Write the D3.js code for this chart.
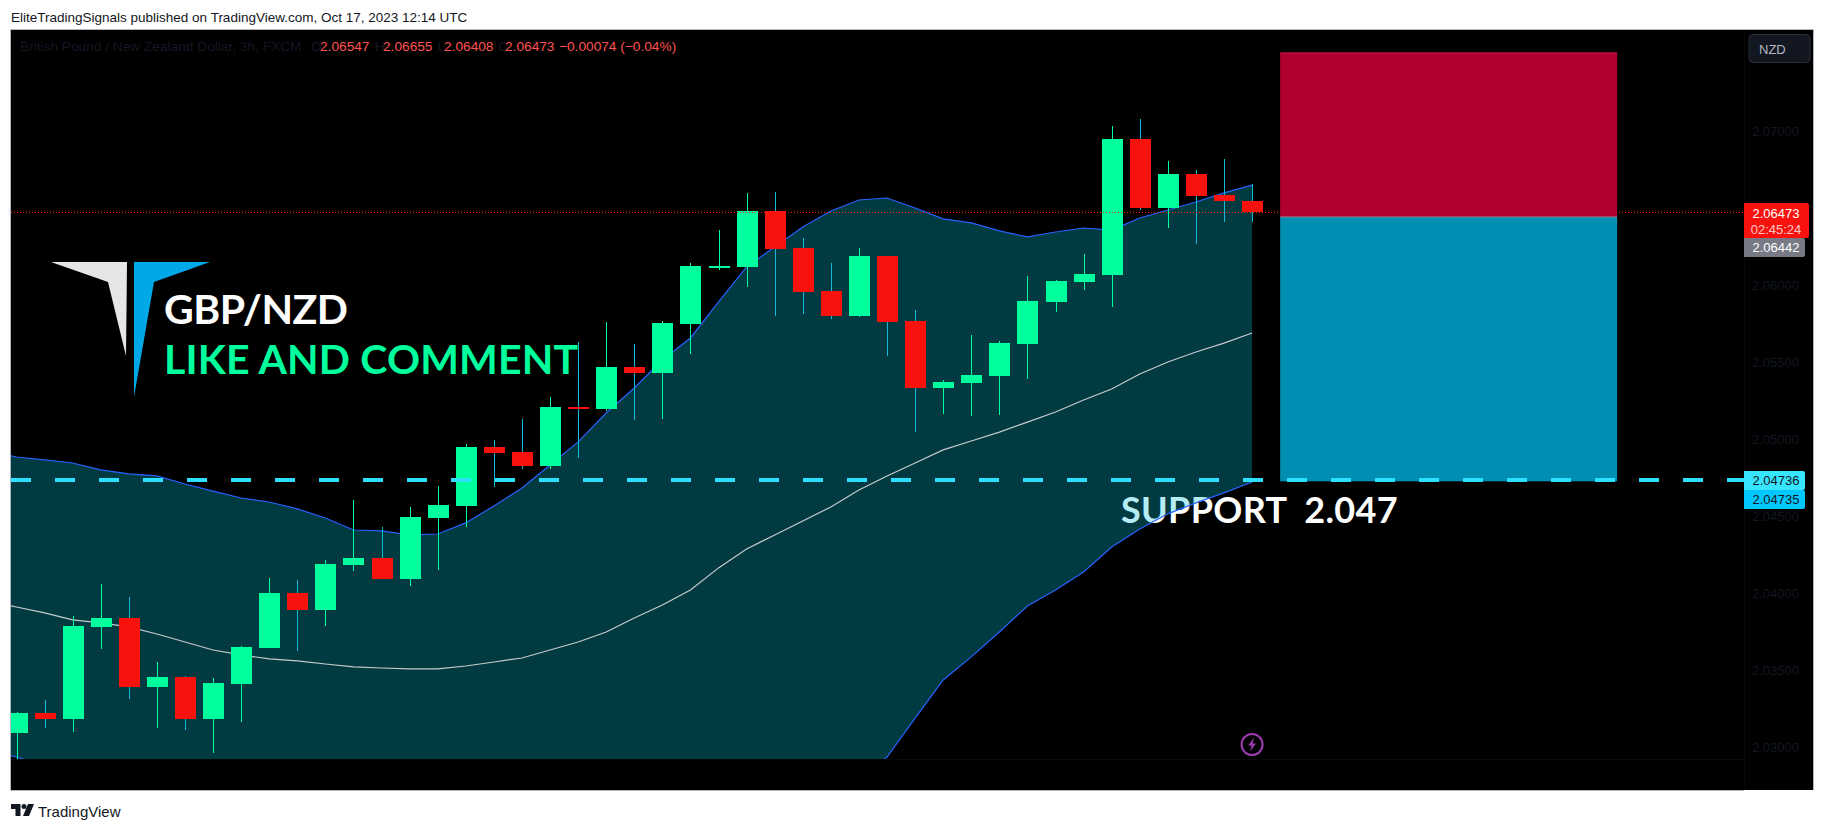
<!DOCTYPE html>
<html><head><meta charset="utf-8">
<script src="https://cdn.jsdelivr.net/npm/d3@7"></script>
<style>
html,body{margin:0;padding:0;background:#fff;overflow:hidden}
text{font-family:"Liberation Sans",sans-serif}
.big{font-family:Lato,"Liberation Sans",sans-serif}
</style></head><body>
<svg id="c" width="1824" height="830"></svg>
<script>
const opens=[2.03091,2.03221,2.03182,2.03780,2.03838,2.03390,2.03455,2.03182,2.03409,2.03643,2.04000,2.03890,2.04183,2.04228,2.04091,2.04487,2.04565,2.04948,2.04916,2.04825,2.05208,2.05195,2.05468,2.05429,2.05747,2.06117,2.06117,2.06481,2.06240,2.05961,2.05799,2.06188,2.05766,2.05331,2.05364,2.05409,2.05617,2.05890,2.06019,2.06065,2.06948,2.06500,2.06721,2.06584,2.06547];
const highs=[2.03227,2.03305,2.03851,2.04059,2.03975,2.03553,2.03461,2.03448,2.03656,2.04098,2.04085,2.04215,2.04604,2.04429,2.04559,2.04695,2.04968,2.04994,2.05130,2.05273,2.05630,2.05760,2.05617,2.05766,2.06143,2.06357,2.06598,2.06604,2.06305,2.06143,2.06240,2.06188,2.05838,2.05383,2.05675,2.05636,2.06058,2.06032,2.06201,2.07032,2.07078,2.06805,2.06747,2.06818,2.06655];
const lows=[2.02902,2.03123,2.03097,2.03637,2.03312,2.03123,2.03110,2.02961,2.03162,2.03643,2.03624,2.03786,2.04144,2.04091,2.04046,2.04150,2.04429,2.04688,2.04805,2.04805,2.04877,2.05182,2.05123,2.05130,2.05552,2.06097,2.05987,2.05799,2.05812,2.05779,2.05792,2.05539,2.05045,2.05162,2.05149,2.05156,2.05390,2.05825,2.05968,2.05857,2.06487,2.06370,2.06266,2.06409,2.06408];
const closes=[2.03221,2.03182,2.03786,2.03838,2.03390,2.03455,2.03182,2.03416,2.03650,2.04000,2.03890,2.04189,2.04228,2.04091,2.04494,2.04572,2.04948,2.04909,2.04825,2.05208,2.05195,2.05468,2.05429,2.05753,2.06123,2.06123,2.06481,2.06234,2.05955,2.05799,2.06188,2.05760,2.05331,2.05370,2.05416,2.05623,2.05896,2.06026,2.06071,2.06948,2.06500,2.06721,2.06578,2.06547,2.06473];
// Bollinger bands start one bar before the first candle
const upperBand=[2.04922,2.04883,2.04864,2.04844,2.04799,2.04773,2.04760,2.04708,2.04662,2.04617,2.04591,2.04546,2.04487,2.04409,2.04403,2.04377,2.04383,2.04455,2.04565,2.04682,2.04831,2.04981,2.05169,2.05331,2.05513,2.05656,2.05890,2.06117,2.06247,2.06377,2.06481,2.06552,2.06565,2.06500,2.06429,2.06403,2.06351,2.06312,2.06344,2.06370,2.06357,2.06435,2.06487,2.06539,2.06598,2.06649];
const basisBand=[2.03948,2.03909,2.03871,2.03825,2.03806,2.03780,2.03734,2.03682,2.03630,2.03598,2.03572,2.03559,2.03539,2.03520,2.03513,2.03507,2.03507,2.03526,2.03552,2.03578,2.03630,2.03682,2.03747,2.03838,2.03922,2.04020,2.04163,2.04286,2.04377,2.04468,2.04559,2.04669,2.04760,2.04844,2.04929,2.04987,2.05045,2.05110,2.05175,2.05253,2.05325,2.05422,2.05500,2.05565,2.05623,2.05688];
const lowerBand=[2.02974,2.02935,2.02877,2.02805,2.02812,2.02786,2.02708,2.02656,2.02598,2.02578,2.02552,2.02572,2.02591,2.02630,2.02624,2.02637,2.02630,2.02598,2.02539,2.02474,2.02429,2.02383,2.02325,2.02344,2.02331,2.02383,2.02435,2.02442,2.02533,2.02559,2.02637,2.02786,2.02935,2.03188,2.03435,2.03585,2.03747,2.03916,2.04020,2.04137,2.04299,2.04416,2.04514,2.04585,2.04650,2.04721];
const priceTicks=[2.07,2.06,2.055,2.05,2.045,2.04,2.035,2.03];
const timeTickBars=[0,4,8,12,16,20,24,28,32,36,40,44,48,52,56,60];
const timeTickLabels=["10","12:00","11","12:00","12","12:00","13","12:00","16","12:00","17","12:00","18","12:00","19","12:00"];
const legendName="British Pound / New Zealand Dollar, 3h, FXCM";
const legendOHLC=[["O","2.06547"],["H","2.06655"],["L","2.06408"],["C","2.06473"]];
const legendChange="−0.00074 (−0.04%)";
const lastPrice=2.06473, entryPrice=2.06442, supportPrice=2.04736, stopPrice=2.04735, targetPrice=2.07507;
const boxStartBar=45, boxEndBar=57;

const L=11,T=30,R=1813,B=790,AX=1744,TX=759;
const x=d3.scaleLinear().domain([0,8]).range([16.5,241.15]);
const y=d3.scaleLinear().domain([2.03,2.07]).range([747,131]);
const svg=d3.select("#c");
const UP="#00ff9d",DN="#f7120e",UPW="#00ff9d",DNW="#12bcd8",INK="#131722";

svg.append("defs").append("clipPath").attr("id","plot").append("rect").attr("x",L).attr("y",T).attr("width",AX-L).attr("height",TX-T);
svg.select("defs").append("clipPath").attr("id","tax").append("rect").attr("x",L).attr("y",TX).attr("width",AX-L).attr("height",B-TX);

// frame
svg.append("rect").attr("x",L).attr("y",T).attr("width",R-L).attr("height",B-T).attr("fill","#000");
svg.append("path").attr("d",`M${L-.5},${B+.5}V${T-.5}H${R+.5}V${B}`).attr("fill","none").attr("stroke","#b2b5be").attr("stroke-width",1);
svg.append("path").attr("d",`M${L},${B+.5}H${AX}`).attr("stroke","#b2b5be").attr("fill","none");
svg.append("path").attr("d",`M${AX+.5},${T}V${B}M${L},${TX+.5}H${AX}`).attr("stroke","#08090c").attr("fill","none");

// header & footer
svg.append("text").attr("x",11).attr("y",21.5).attr("font-size",13.5).attr("fill","#131722").text("EliteTradingSignals published on TradingView.com, Oct 17, 2023 12:14 UTC");
const tv=svg.append("g").attr("transform","translate(11,804)").attr("fill","#131722");
tv.append("path").attr("d","M0,0H9.5V12H4.5V5H0Z");
tv.append("circle").attr("cx",13).attr("cy",2.5).attr("r",2.5);
tv.append("path").attr("d","M17,0H23L18,12H12Z");
svg.append("text").attr("x",38).attr("y",816.5).attr("font-size",15).attr("fill","#131722").text("TradingView");

// legend
const lg=svg.append("g").attr("font-size",13.7);
lg.append("text").attr("x",20).attr("y",51).attr("fill",INK).text(legendName);
const lblX=[311,375,437.5,498.6],valX=[320,383,444,505];
legendOHLC.forEach((d,i)=>{
  lg.append("text").attr("x",lblX[i]).attr("y",51).attr("fill",INK).text(d[0]);
  lg.append("text").attr("x",valX[i]).attr("y",51).attr("fill","#ff5252").text(d[1]);
});
lg.append("text").attr("x",559).attr("y",51).attr("fill","#ff5252").text(legendChange);

// logo + annotation text
svg.append("polygon").attr("points","51,262 127,262 126,356 108,282").attr("fill","#e6e6e6");
svg.append("polygon").attr("points","134,262 210,262 154,282 134,397").attr("fill","#00a8e8");
svg.append("text").attr("class","big").attr("x",164).attr("y",323.5).attr("font-size",41).attr("font-weight",700).attr("letter-spacing",-0.5).attr("fill","#fff").text("GBP/NZD");
svg.append("text").attr("class","big").attr("x",164).attr("y",374).attr("font-size",41).attr("font-weight",700).attr("letter-spacing",0.15).attr("fill",UP).text("LIKE AND COMMENT");
svg.append("text").attr("class","big").attr("x",1121).attr("y",522.5).attr("font-size",36).attr("font-weight",700).attr("letter-spacing",0.3).attr("fill","#fff").style("white-space","pre").text("SUPPORT  2.047");

const plot=svg.append("g").attr("clip-path","url(#plot)");
const bx=i=>x(i-1);
// bands
plot.append("path").datum(upperBand).attr("fill","rgba(8,193,220,0.3)")
  .attr("d",d3.area().x((d,i)=>bx(i)).y0((d,i)=>y(lowerBand[i])).y1(d=>y(d)));
const line=d3.line().x((d,i)=>bx(i)).y(d=>y(d));
plot.append("path").attr("d",line(basisBand)).attr("fill","none").attr("stroke","#c7cbcc").attr("stroke-width",1.2);
plot.append("path").attr("d",line(upperBand)).attr("fill","none").attr("stroke","#2962ff").attr("stroke-width",1.2);
plot.append("path").attr("d",line(lowerBand)).attr("fill","none").attr("stroke","#2962ff").attr("stroke-width",1.2);

// candles
const bars=d3.range(opens.length);
const c=plot.append("g").attr("shape-rendering","crispEdges");
c.selectAll("line").data(bars).join("line")
  .attr("x1",i=>Math.round(x(i))+.5).attr("x2",i=>Math.round(x(i))+.5)
  .attr("y1",i=>y(highs[i])).attr("y2",i=>y(lows[i]))
  .attr("stroke",i=>closes[i]>=opens[i]?UPW:DNW).attr("stroke-width",1);
c.selectAll("rect").data(bars).join("rect")
  .attr("x",i=>Math.round(x(i))-10).attr("width",21)
  .attr("y",i=>y(Math.max(opens[i],closes[i])))
  .attr("height",i=>Math.max(1.5,Math.abs(y(opens[i])-y(closes[i]))))
  .attr("fill",i=>closes[i]>=opens[i]?UP:DN);

// last price dotted line
plot.append("line").attr("x1",L).attr("x2",AX).attr("y1",y(lastPrice)).attr("y2",y(lastPrice))
  .attr("stroke","#ff1a10").attr("stroke-width",1).attr("stroke-dasharray","1 2").attr("shape-rendering","crispEdges");

// position boxes
plot.append("rect").attr("x",x(boxStartBar)).attr("width",x(boxEndBar)-x(boxStartBar))
  .attr("y",y(targetPrice)).attr("height",y(entryPrice)-y(targetPrice)).attr("fill","#b0002f");
plot.append("rect").attr("x",x(boxStartBar)).attr("width",x(boxEndBar)-x(boxStartBar))
  .attr("y",y(entryPrice)).attr("height",y(stopPrice)-y(entryPrice)+1.5).attr("fill","#008fb3");
plot.append("line").attr("x1",x(boxStartBar)).attr("x2",x(boxEndBar)).attr("y1",y(targetPrice)).attr("y2",y(targetPrice)).attr("stroke","#e0104f");
plot.append("line").attr("x1",x(boxStartBar)).attr("x2",x(boxEndBar)).attr("y1",y(entryPrice)).attr("y2",y(entryPrice)).attr("stroke","#a5788f");

// support dashed line
plot.append("line").attr("x1",L).attr("x2",AX).attr("y1",y(supportPrice)+.3).attr("y2",y(supportPrice)+.3)
  .attr("stroke","#2ee0ff").attr("stroke-width",4).attr("stroke-dasharray","20 24");

// lightning icon
const ic=svg.append("g").attr("transform",`translate(${x(44)},744.5)`);
ic.append("circle").attr("r",10.5).attr("fill","none").attr("stroke","#9c3bb0").attr("stroke-width",2);
ic.append("path").attr("d","M2,-7L-4,1H-0.5L-2,7L4,-1H0.5Z").attr("fill","#9c3bb0");

// axes
const yAxis=d3.axisRight(y).tickValues(priceTicks).tickFormat(d3.format(".5f")).tickSize(0).tickPadding(8);
const ya=svg.append("g").attr("transform",`translate(${AX},0)`).call(yAxis);
ya.select(".domain").remove();
ya.selectAll("text").attr("font-size",13).attr("fill",INK).style("font-family","Liberation Sans");
const xAxis=d3.axisBottom(x).tickValues(timeTickBars).tickFormat((d,i)=>timeTickLabels[i]).tickSize(0).tickPadding(9);
const xa=svg.append("g").attr("transform",`translate(0,${TX})`).attr("clip-path","url(#tax)").call(xAxis);
xa.select(".domain").remove();
xa.selectAll("text").attr("font-size",13).attr("fill",INK).style("font-family","Liberation Sans");

// NZD button
svg.append("rect").attr("x",1749).attr("y",34.5).attr("width",61).attr("height",28).attr("rx",4).attr("fill","#131722").attr("stroke","#2a2e39");
svg.append("text").attr("x",1759).attr("y",54).attr("font-size",13).attr("fill","#b2b5be").text("NZD");

// price tags
function tag(yt,h,w,fill,lines){
  svg.append("path").attr("d",`M${AX},${yt}H${AX+w-2}q2,0 2,2V${yt+h-2}q0,2 -2,2H${AX}Z`).attr("fill",fill);
  lines.forEach(l=>svg.append("text").attr("x",1776).attr("y",l.y).attr("text-anchor","middle").attr("font-size",13).attr("fill",l.c).text(l.t));
}
tag(203,35,65,DN,[{t:d3.format(".5f")(lastPrice),y:217.5,c:"#fff"},{t:"02:45:24",y:233.5,c:"#ffc9c7"}]);
tag(238,19,61,"#787b86",[{t:d3.format(".5f")(entryPrice),y:252,c:"#fff"}]);
tag(490,19,61,"#00c8ff",[{t:d3.format(".5f")(stopPrice),y:504,c:INK}]);
tag(471,19,61,"#38e5ff",[{t:d3.format(".5f")(supportPrice),y:485,c:INK}]);
</script>
</body></html>
